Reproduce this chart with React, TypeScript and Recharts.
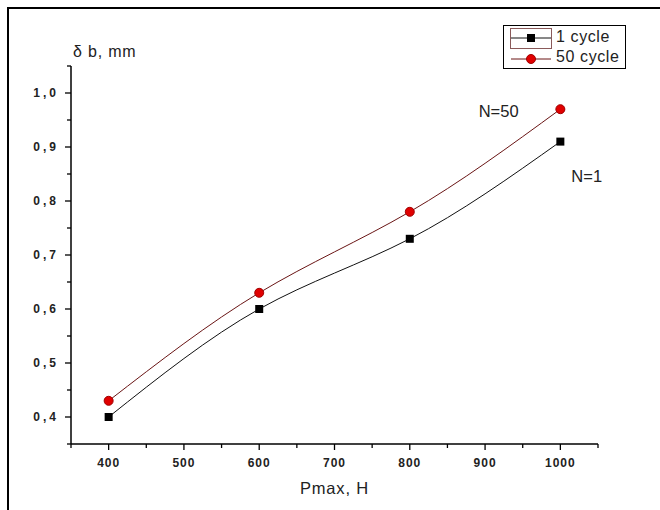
import { LineChart, Line, XAxis, YAxis, ReferenceDot } from 'recharts';

const loads = [400, 600, 800, 1000];
const oneCycle = [0.4, 0.6, 0.73, 0.91];
const fiftyCycle = [0.43, 0.63, 0.78, 0.97];
const xTicks = [350, 400, 450, 500, 550, 600, 650, 700, 750, 800, 850, 900, 950, 1000, 1050];
const yTicks = [0.35, 0.4, 0.45, 0.5, 0.55, 0.6, 0.65, 0.7, 0.75, 0.8, 0.85, 0.9, 0.95, 1.0, 1.05];

const data = loads.map((p, i) => ({ p, one: oneCycle[i], fifty: fiftyCycle[i] }));

const font = 'Arial, "Liberation Sans", sans-serif';

function XTick(props: any) {
  const { x, y, payload } = props;
  const v = payload.value;
  const major = v % 100 === 0;
  return (
    <g>
      <line x1={x} x2={x} y1={y} y2={y + (major ? 6 : 4)} stroke="#000" strokeWidth={1.3} />
      {major && (
        <text x={x} y={y + 23} textAnchor="middle" fontFamily={font} fontWeight="bold" fontSize={12} letterSpacing={1} fill="#222">
          {v}
        </text>
      )}
    </g>
  );
}

function YTick(props: any) {
  const { x, y, payload } = props;
  const v = payload.value;
  const major = Math.abs(Math.round(v * 10) - v * 10) < 1e-6;
  return (
    <g>
      <line x1={x - (major ? 6 : 4)} x2={x} y1={y} y2={y} stroke="#000" strokeWidth={1.3} />
      {major && (
        <text x={x - 12} y={y + 4} textAnchor="end" fontFamily={font} fontWeight="bold" fontSize={12} letterSpacing={3} fill="#222">
          {v.toFixed(1).replace('.', ',')}
        </text>
      )}
    </g>
  );
}

function Square(props: any) {
  const { cx, cy } = props;
  return <rect x={cx - 4} y={cy - 4} width={8} height={8} fill="#000" />;
}

function Circle(props: any) {
  const { cx, cy } = props;
  return <circle cx={cx} cy={cy} r={4.5} fill="#e00000" stroke="#a00000" strokeWidth={1} />;
}

export default function App() {
  return (
    <div style={{ position: 'fixed', left: 0, top: 0, width: 660, height: 510, background: '#fff', fontFamily: font }}>
      <div style={{ position: 'absolute', left: 7, top: 7, right: -4, bottom: -4, borderTop: '2px solid #000', borderLeft: '2px solid #000' }} />
      <LineChart width={660} height={510} data={data} margin={{ top: 66, right: 62, bottom: 36, left: 21 }}>
        <XAxis
          dataKey="p"
          type="number"
          domain={[350, 1050]}
          ticks={xTicks}
          interval={0}
          tick={<XTick />}
          tickLine={false}
          tickSize={0}
          tickMargin={0}
          height={30}
          axisLine={{ stroke: '#000', strokeWidth: 1.5 }}
        />
        <YAxis
          type="number"
          domain={[0.35, 1.05]}
          ticks={yTicks}
          interval={0}
          tick={<YTick />}
          tickLine={false}
          tickSize={0}
          tickMargin={0}
          width={50}
          axisLine={{ stroke: '#000', strokeWidth: 1.5 }}
        />
        <Line dataKey="one" type="natural" stroke="#111" strokeWidth={1} dot={<Square />} isAnimationActive={false} />
        <Line dataKey="fifty" type="natural" stroke="#6a1515" strokeWidth={1} dot={<Circle />} isAnimationActive={false} />
        <ReferenceDot x={918} y={0.967} r={0} label={{ value: 'N=50', fontFamily: font, fontSize: 16.5, fill: '#222', position: 'center' }} />
        <ReferenceDot x={1035} y={0.846} r={0} label={{ value: 'N=1', fontFamily: font, fontSize: 16.5, fill: '#222', position: 'center' }} />
      </LineChart>
      <div style={{ position: 'absolute', left: 73, top: 43, fontSize: 16, color: '#222', letterSpacing: 0.8 }}>δ b, mm</div>
      <div style={{ position: 'absolute', left: 300, top: 479, fontSize: 16.5, color: '#222', letterSpacing: 0.8 }}>Pmax, H</div>
      <div style={{ position: 'absolute', left: 503, top: 25, width: 121, height: 42, border: '1px solid #000', fontSize: 16, color: '#222' }}>
        <div style={{ position: 'absolute', left: 6, top: 2, width: 40, height: 19, border: '1px solid #8a5a5a' }} />
        <svg style={{ position: 'absolute', left: 0, top: 0 }} width={55} height={42}>
          <line x1={7} x2={47} y1={12} y2={12} stroke="#111" strokeWidth={1} />
          <rect x={23} y={8} width={8} height={8} fill="#000" />
          <line x1={7} x2={47} y1={33} y2={33} stroke="#6a1515" strokeWidth={1} />
          <circle cx={27} cy={33} r={4.5} fill="#e00000" stroke="#a00000" />
        </svg>
        <div style={{ position: 'absolute', left: 52, top: 2, letterSpacing: 0.6 }}>1 cycle</div>
        <div style={{ position: 'absolute', left: 52, top: 22, letterSpacing: 0.6 }}>50 cycle</div>
      </div>
    </div>
  );
}
